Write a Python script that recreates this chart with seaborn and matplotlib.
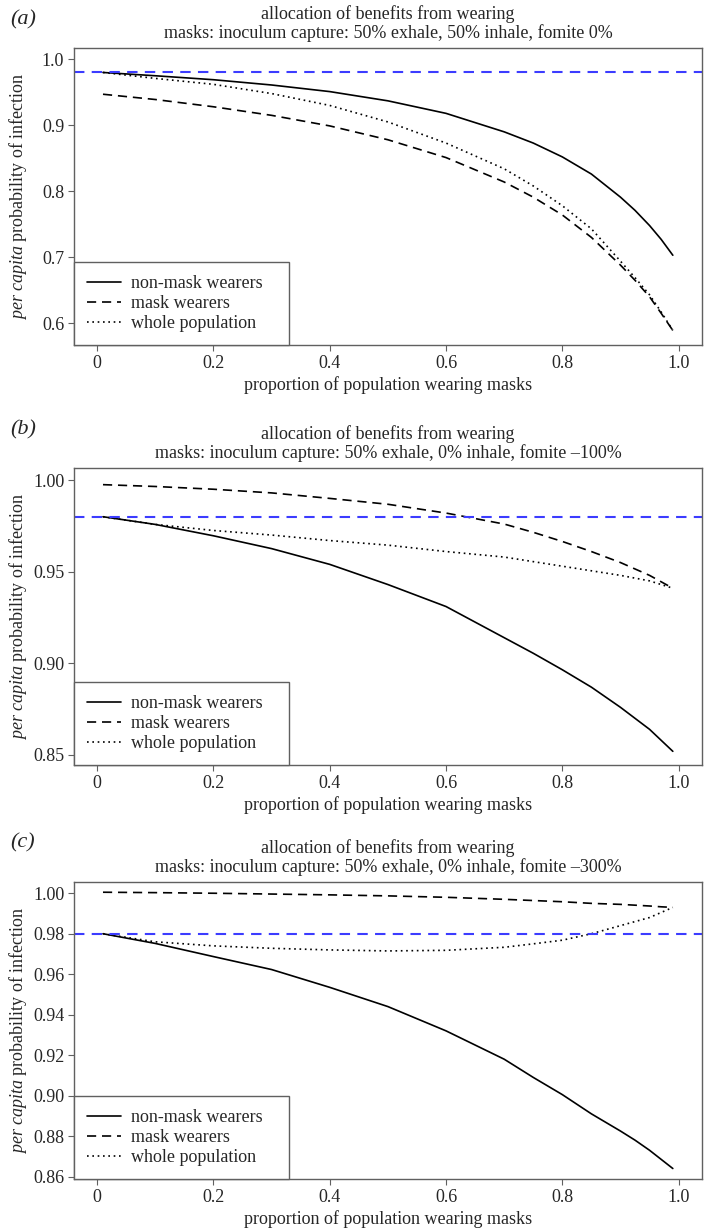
import numpy as np
import pandas as pd
import matplotlib
matplotlib.use('Agg')
import matplotlib.pyplot as plt
from matplotlib.ticker import FormatStrFormatter, FixedLocator, FixedFormatter
import seaborn as sns

# proportion of population wearing masks
prop = [0.01, 0.1, 0.2, 0.3, 0.4, 0.5, 0.6, 0.7, 0.75, 0.8, 0.85, 0.9, 0.925, 0.95, 0.97, 0.99]

# (a) 50% exhale, 50% inhale, fomite 0%
a_non_mask = [0.980, 0.975, 0.969, 0.961, 0.951, 0.937, 0.918, 0.890, 0.873, 0.852, 0.826, 0.791, 0.771, 0.748, 0.727, 0.703]
a_mask = [0.947, 0.939, 0.928, 0.915, 0.899, 0.878, 0.851, 0.814, 0.791, 0.764, 0.730, 0.688, 0.665, 0.640, 0.615, 0.589]
a_whole = [0.980, 0.971, 0.962, 0.948, 0.930, 0.905, 0.873, 0.834, 0.808, 0.778, 0.743, 0.694, 0.669, 0.643, 0.617, 0.589]

# (b) 50% exhale, 0% inhale, fomite -100%
b_non_mask = [0.980, 0.9758, 0.9696, 0.9626, 0.954, 0.943, 0.931, 0.914, 0.9055, 0.8965, 0.887, 0.876, 0.870, 0.864, 0.858, 0.852]
b_mask = [0.9975, 0.9965, 0.995, 0.993, 0.990, 0.9868, 0.982, 0.976, 0.9715, 0.9665, 0.961, 0.955, 0.9515, 0.948, 0.9445, 0.941]
b_whole = [0.980, 0.9758, 0.9725, 0.970, 0.967, 0.9645, 0.961, 0.958, 0.9555, 0.953, 0.9505, 0.948, 0.9465, 0.945, 0.943, 0.941]

# (c) 50% exhale, 0% inhale, fomite -300%
c_non_mask = [0.980, 0.9752, 0.9687, 0.9623, 0.9535, 0.944, 0.932, 0.918, 0.909, 0.9005, 0.891, 0.8825, 0.878, 0.873, 0.8685, 0.864]
c_mask = [1.0005, 1.0003, 1.0000, 0.9996, 0.9992, 0.9987, 0.998, 0.997, 0.9964, 0.9958, 0.995, 0.9945, 0.9941, 0.9937, 0.9933, 0.993]
c_whole = [0.980, 0.976, 0.974, 0.9728, 0.972, 0.9715, 0.9718, 0.9733, 0.975, 0.9768, 0.980, 0.984, 0.986, 0.988, 0.9905, 0.993]

baseline = 0.98

titles = ['allocation of benefits from wearing\nmasks: inoculum capture: 50% exhale, 50% inhale, fomite 0%',
          'allocation of benefits from wearing\nmasks: inoculum capture: 50% exhale, 0% inhale, fomite \u2013100%',
          'allocation of benefits from wearing\nmasks: inoculum capture: 50% exhale, 0% inhale, fomite \u2013300%']
panel_tags = ['(a)', '(b)', '(c)']
series_names = ['non-mask wearers', 'mask wearers', 'whole population']
x_ticks = [0, 0.2, 0.4, 0.6, 0.8, 1.0]
x_tick_labels = ['0', '0.2', '0.4', '0.6', '0.8', '1.0']
y_ticks = [[0.6, 0.7, 0.8, 0.9, 1.0],
           [0.85, 0.90, 0.95, 1.00],
           [0.86, 0.88, 0.90, 0.92, 0.94, 0.96, 0.98, 1.00]]
y_formats = ['%.1f', '%.2f', '%.2f']
y_limits = [(0.567, 1.017), (0.8445, 1.0065), (0.8588, 1.0055)]

panels = [(a_non_mask, a_mask, a_whole), (b_non_mask, b_mask, b_whole), (c_non_mask, c_mask, c_whole)]

sns.set_theme(style='ticks')
plt.rcParams['font.family'] = ['Liberation Serif', 'DejaVu Serif']
plt.rcParams['mathtext.fontset'] = 'custom'
plt.rcParams['mathtext.rm'] = 'Liberation Serif'
plt.rcParams['mathtext.it'] = 'Liberation Serif:italic'
plt.rcParams['font.size'] = 13

FS = 13
FRAME = '#606060'
fig = plt.figure(figsize=(7.04, 12.32), dpi=100)
bottoms = [0.720, 0.379, 0.043]
tag_y = [0.984, 0.651, 0.316]
styles = ['-', (0, (5.5, 3.5)), (0, (1, 2.2))]

for i, (vals, bot) in enumerate(zip(panels, bottoms)):
    ax = fig.add_axes([0.105, bot, 0.892, 0.241])
    n = len(prop)
    df = pd.DataFrame({'prop': prop * 3,
                       'prob': list(vals[0]) + list(vals[1]) + list(vals[2]),
                       'group': [series_names[0]] * n + [series_names[1]] * n + [series_names[2]] * n})
    for name, ls in zip(series_names, styles):
        sub = df[df['group'] == name]
        sns.lineplot(data=sub, x='prop', y='prob', color='black', linestyle=ls, linewidth=1.2,
                     label=name, ax=ax, sort=False)
    ax.axhline(baseline, color='#3c3cff', linestyle=(0, (5, 3.5)), linewidth=1.5)

    ax.set_xlim(-0.04, 1.04)
    ax.set_ylim(*y_limits[i])
    ax.xaxis.set_major_locator(FixedLocator(x_ticks))
    ax.xaxis.set_major_formatter(FixedFormatter(x_tick_labels))
    ax.yaxis.set_major_locator(FixedLocator(y_ticks[i]))
    ax.yaxis.set_major_formatter(FormatStrFormatter(y_formats[i]))
    ax.tick_params(axis='both', labelsize=FS, length=4, width=0.8, color=FRAME, pad=3)
    for sp in ax.spines.values():
        sp.set_color(FRAME)
        sp.set_linewidth(1.0)

    ax.set_xlabel('proportion of population wearing masks', fontsize=FS, labelpad=3)
    ax.set_ylabel(r'$\it{per\ capita}$ probability of infection', fontsize=FS)
    ax.yaxis.set_label_coords(-0.072, 0.5)
    ax.set_title(titles[i], fontsize=FS, linespacing=1.1, pad=7)

    leg = ax.legend(loc='lower left', bbox_to_anchor=(0, 0, 0.342, 1), mode='expand',
                    borderaxespad=0, fancybox=False, framealpha=1, fontsize=FS,
                    handlelength=1.9, handletextpad=0.55, labelspacing=0.18, borderpad=0.7)
    leg.get_frame().set_edgecolor(FRAME)
    leg.get_frame().set_linewidth(1.0)

    fig.text(0.015, tag_y[i], panel_tags[i], fontsize=16, fontstyle='italic', va='center', ha='left')

fig.savefig('out.png', dpi=100)
